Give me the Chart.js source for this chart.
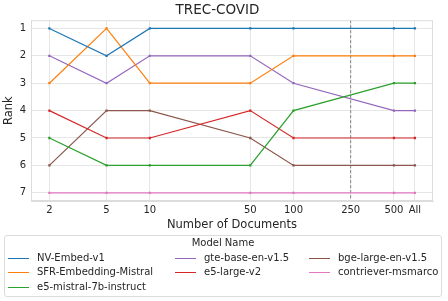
<!DOCTYPE html>
<html>
<head>
<meta charset="utf-8">
<script src="https://cdn.jsdelivr.net/npm/chart.js@4.4.1/dist/chart.umd.min.js"></script>
<style>
  body { margin: 0; background: #fff; font-family: "DejaVu Sans", sans-serif; }
  #wrap { position: relative; width: 448px; height: 301px; }
  #chart { position: absolute; left: 0; top: 0; }
  #legend { position: absolute; left: 4px; top: 235px; width: 438px; height: 62px;
            border: 1px solid #dcdcdc; border-radius: 3px; box-sizing: border-box;
            color: #262626; font-size: 10px; }
  #legend .title { position: absolute; left: 0; right: 0; top: 1px; text-align: center; font-size: 10px; }
  #legend .item { position: absolute; white-space: nowrap; line-height: 12px; }
  #legend .swatch { display: inline-block; width: 21px; height: 0; border-top: 1.3px solid; vertical-align: middle; margin-right: 8px; }
</style>
</head>
<body>
<div id="wrap">
  <canvas id="chart" width="448" height="238"></canvas>
  <div id="legend"></div>
</div>
<script>
// Data
const docCounts = [2, 5, 10, 50, 100, 500, 700]   // 700 stands for "All"
const tickValues = [2, 5, 10, 50, 100, 250, 500, 700]
const tickLabels = ['2', '5', '10', '50', '100', '250', '500', 'All']
const rankTicks = [1, 2, 3, 4, 5, 6, 7]
const cutoffDocs = 250

const modelNames = ['NV-Embed-v1', 'SFR-Embedding-Mistral', 'e5-mistral-7b-instruct',
  'gte-base-en-v1.5', 'e5-large-v2', 'bge-large-en-v1.5', 'contriever-msmarco']
const nvEmbed = [1, 2, 1, 1, 1, 1, 1]
const sfrMistral = [3, 1, 3, 3, 2, 2, 2]
const e5Mistral = [5, 6, 6, 6, 4, 3, 3]
const gteBase = [2, 3, 2, 2, 3, 4, 4]
const e5Large = [4, 5, 5, 4, 5, 5, 5]
const bgeLarge = [6, 4, 4, 5, 6, 6, 6]
const contriever = [7, 7, 7, 7, 7, 7, 7]
const rankSeries = [nvEmbed, sfrMistral, e5Mistral, gteBase, e5Large, bgeLarge, contriever]
const colors = ['#1f77b4', '#ff7f0e', '#2ca02c', '#9467bd', '#d62728', '#8c564b', '#e377c2']

const textColor = '#262626'
const gridColor = '#e6e6e6'

const datasets = rankSeries.map((ranks, i) => ({
  label: modelNames[i],
  data: ranks.map((r, j) => ({ x: docCounts[j], y: r })),
  borderColor: colors[i],
  backgroundColor: colors[i],
  borderWidth: 1.2,
  pointRadius: 1.6,
  pointStyle: 'rect',
  pointBorderWidth: 0,
  tension: 0
}))

// Draws the plot frame and the dashed cut-off line
const extras = {
  id: 'extras',
  beforeDatasetsDraw(chart) {
    const { ctx, chartArea: a, scales } = chart
    ctx.save()
    const x = scales.x.getPixelForValue(cutoffDocs)
    ctx.strokeStyle = '#666'
    ctx.lineWidth = 0.8
    ctx.setLineDash([3, 2])
    ctx.beginPath()
    ctx.moveTo(x, a.top)
    ctx.lineTo(x, a.bottom)
    ctx.stroke()
    ctx.setLineDash([])
    ctx.strokeStyle = '#dcdcdc'
    ctx.lineWidth = 1
    ctx.strokeRect(a.left + 0.5, a.top + 0.5, a.right - a.left - 1, a.bottom - a.top - 1)
    ctx.restore()
  }
}

const chart = new Chart(document.getElementById('chart'), {
  type: 'line',
  data: { datasets },
  plugins: [extras],
  options: {
    responsive: false,
    animation: false,
    layout: { padding: { left: 2, right: 15, top: 0, bottom: 6 } },
    plugins: {
      legend: { display: false },
      tooltip: { enabled: false },
      title: {
        display: true,
        text: 'TREC-COVID',
        color: textColor,
        font: { family: 'DejaVu Sans', size: 13.5, weight: 'normal' },
        padding: { top: 2, bottom: 2 }
      }
    },
    scales: {
      x: {
        type: 'logarithmic',
        min: 1.49,
        max: 935,
        afterBuildTicks(scale) {
          scale.ticks = tickValues.map(v => ({ value: v }))
        },
        afterFit(scale) {
          scale.height = 31
        },
        ticks: {
          autoSkip: false,
          maxRotation: 0,
          color: textColor,
          padding: 3,
          font: { family: 'DejaVu Sans', size: 10 },
          callback: (v) => tickLabels[tickValues.indexOf(v)]
        },
        grid: { color: gridColor, drawTicks: false },
        border: { color: '#dcdcdc' },
        title: {
          display: true,
          text: 'Number of Documents',
          color: textColor,
          font: { family: 'DejaVu Sans', size: 11.5 },
          padding: { top: 1, bottom: 0 }
        }
      },
      y: {
        reverse: true,
        min: 0.7,
        max: 7.3,
        afterBuildTicks(scale) {
          scale.ticks = rankTicks.map(v => ({ value: v }))
        },
        afterFit(scale) {
          scale.width = 29
        },
        ticks: {
          color: textColor,
          padding: 5,
          font: { family: 'DejaVu Sans', size: 10 }
        },
        grid: { color: gridColor, drawTicks: false },
        border: { color: '#dcdcdc' },
        title: {
          display: true,
          text: 'Rank',
          color: textColor,
          font: { family: 'DejaVu Sans', size: 11.5 },
          padding: 0
        }
      }
    }
  }
})

// Legend in three columns, filled column by column (first column takes the extra entry)
function buildLegend() {
  const box = document.getElementById('legend')
  const title = document.createElement('div')
  title.className = 'title'
  title.textContent = 'Model Name'
  box.appendChild(title)
  const colLeft = [3, 170, 304]
  const rowTop = [16, 30, 45]
  const nCols = 3
  const base = Math.floor(modelNames.length / nCols)
  const extra = modelNames.length % nCols
  let idx = 0
  for (let c = 0; c < nCols; c++) {
    const rows = base + (c < extra ? 1 : 0)
    for (let r = 0; r < rows; r++, idx++) {
      const item = document.createElement('div')
      item.className = 'item'
      item.style.left = colLeft[c] + 'px'
      item.style.top = rowTop[r] + 'px'
      const sw = document.createElement('span')
      sw.className = 'swatch'
      sw.style.borderColor = colors[idx]
      item.appendChild(sw)
      item.appendChild(document.createTextNode(modelNames[idx]))
      box.appendChild(item)
    }
  }
}
buildLegend()
</script>
</body>
</html>
